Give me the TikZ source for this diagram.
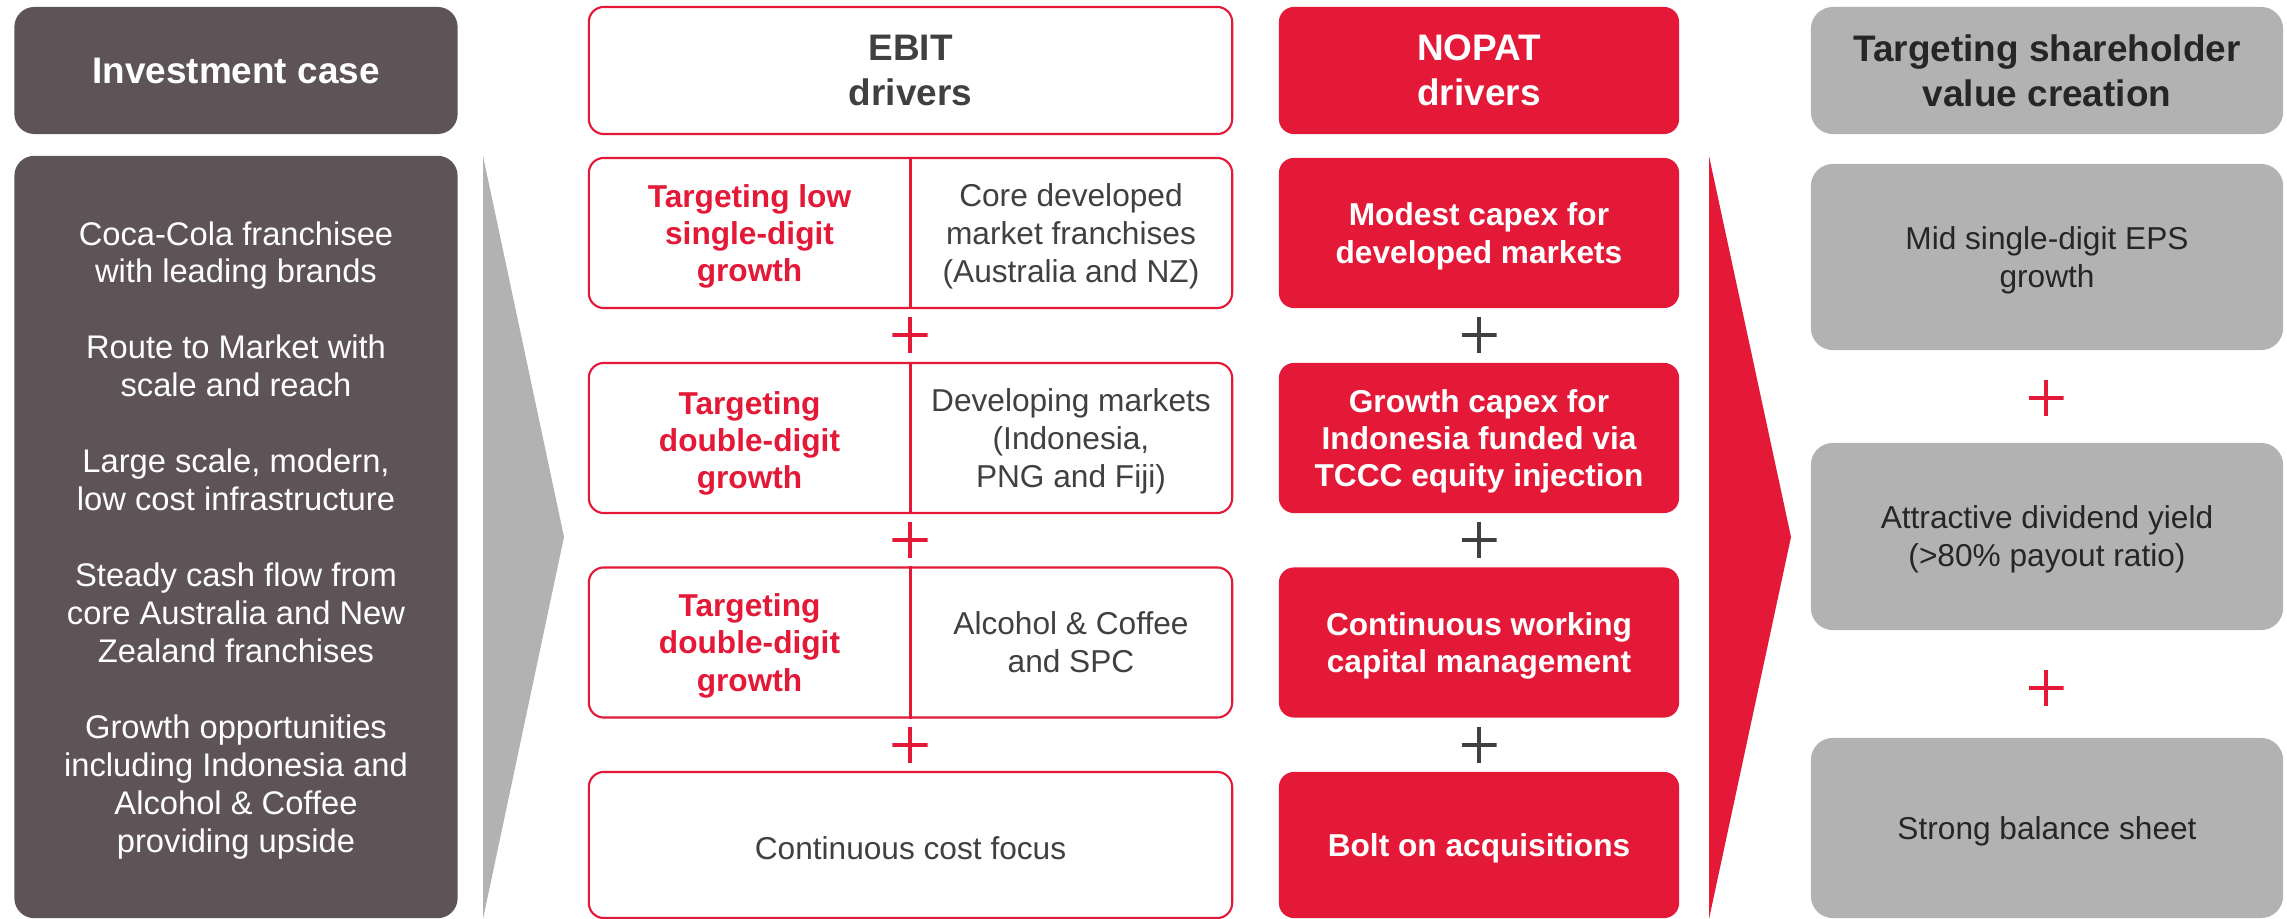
\documentclass[tikz,border=0pt]{standalone}
\usepackage{fontspec}
\setmainfont{Liberation Sans}
\definecolor{casebrown}{RGB}{94,84,87}
\definecolor{ccred}{RGB}{227,25,55}
\definecolor{valgrey}{RGB}{178,178,178}
\definecolor{ink}{RGB}{64,64,64}
\definecolor{inkdark}{RGB}{38,38,38}
\begin{document}
\begin{tikzpicture}[x=0.01cm,y=-0.01cm,
  every node/.style={font=\fontsize{9}{10.8}\selectfont, align=center, inner sep=0pt},
  headtext/.style={font=\fontsize{10.5}{12.8}\selectfont\bfseries},
  casebox/.style={fill=casebrown, rounded corners=0.2cm, text=white, minimum width=4.43cm, text depth=0pt},
  ebitbox/.style={draw=ccred, line width=0.6pt, fill=white, rounded corners=0.15cm, text=ink, minimum width=6.43cm},
  nopatbox/.style={fill=ccred, rounded corners=0.15cm, text=white, minimum width=4.0cm, text depth=0pt,
    font=\fontsize{9}{10.6}\selectfont\bfseries},
  valbox/.style={fill=valgrey, rounded corners=0.22cm, text=inkdark, minimum width=4.72cm, text depth=0pt},
  redlabel/.style={text=ccred, text depth=0pt, font=\fontsize{9}{10.6}\selectfont\bfseries},
  greylabel/.style={text=ink, text depth=0pt},
  divider/.style={draw=ccred, line width=0.6pt},
  plussign/.style={minimum size=0.35cm, path picture={
      \draw[#1, line width=1pt]
        (path picture bounding box.north) -- (path picture bounding box.south)
        (path picture bounding box.west) -- (path picture bounding box.east);}},
]
\useasboundingbox (0,0) rectangle (2287,919);

% investment case column
\node[casebox, headtext, minimum height=1.27cm] (invhead) at (236,70.5) {Investment case};
\node[casebox, minimum height=7.62cm, font=\fontsize{9.3}{10.8}\selectfont] (invbody) at (236,537)
  {Coca-Cola franchisee\\with leading brands\\[10.8pt]
   Route to Market with\\scale and reach\\[10.8pt]
   Large scale, modern,\\low cost infrastructure\\[10.8pt]
   Steady cash flow from\\core Australia and New\\Zealand franchises\\[10.8pt]
   Growth opportunities\\including Indonesia and\\Alcohol \& Coffee\\providing upside};

% grey chevron
\fill[valgrey] (483,156) -- (564,537) -- (483,919) -- cycle;

% EBIT drivers column
\node[ebitbox, headtext, minimum height=1.27cm, text depth=0pt] (ebithead) at (910.5,70.5) {EBIT\\drivers};
\node[ebitbox, minimum height=1.5cm] (row1) at (910.5,233) {};
\node[ebitbox, minimum height=1.5cm] (row2) at (910.5,438) {};
\node[ebitbox, minimum height=1.5cm] (row3) at (910.5,642.5) {};
\node[ebitbox, minimum height=1.46cm] (row4) at (910.5,845) {};
\draw[divider] (row1.north) -- (row1.south);
\draw[divider] (row2.north) -- (row2.south);
\draw[divider] (row3.north) -- (row3.south);

\node[redlabel] (row1l) at (749.5,233) {Targeting low\\single-digit\\growth};
\node[greylabel] (row1r) at (1071,233) {Core developed\\market franchises\\(Australia and NZ)};
\node[redlabel] (row2l) at (749.5,440) {Targeting\\double-digit\\growth};
\node[greylabel] (row2r) at (1071,438) {Developing markets\\(Indonesia,\\PNG and Fiji)};
\node[redlabel] (row3l) at (749.5,642.5) {Targeting\\double-digit\\growth};
\node[greylabel] (row3r) at (1071,642.5) {Alcohol \& Coffee\\and SPC};
\node[greylabel] (row4t) at (910.5,848) {Continuous cost focus};

\node[plussign=ccred] (ep1) at (910,335) {};
\node[plussign=ccred] (ep2) at (910,540) {};
\node[plussign=ccred] (ep3) at (910,745) {};

% NOPAT drivers column
\node[nopatbox, headtext, minimum height=1.27cm] (nophead) at (1479,70.5) {NOPAT\\drivers};
\node[nopatbox, minimum height=1.5cm] (nop1) at (1479,233) {Modest capex for\\developed markets};
\node[nopatbox, minimum height=1.5cm] (nop2) at (1479,438) {Growth capex for\\Indonesia funded via\\TCCC equity injection};
\node[nopatbox, minimum height=1.5cm] (nop3) at (1479,642.5) {Continuous working\\capital management};
\node[nopatbox, minimum height=1.46cm] (nop4) at (1479,845) {Bolt on acquisitions};

\node[plussign=ink] (np1) at (1479,335) {};
\node[plussign=ink] (np2) at (1479,540) {};
\node[plussign=ink] (np3) at (1479,745) {};

% red chevron
\fill[ccred] (1709,156) -- (1791,537) -- (1709,919) -- cycle;

% shareholder value column
\node[valbox, headtext, minimum height=1.27cm] (valhead) at (2047,70.5) {Targeting shareholder\\value creation};
\node[valbox, minimum height=1.86cm] (val1) at (2047,257) {Mid single-digit EPS\\growth};
\node[valbox, minimum height=1.87cm] (val2) at (2047,536.5) {Attractive dividend yield\\(>80\% payout ratio)};
\node[valbox, minimum height=1.8cm] (val3) at (2047,828) {Strong balance sheet};

\node[plussign=ccred] (vp1) at (2046,398) {};
\node[plussign=ccred] (vp2) at (2046,688) {};
\end{tikzpicture}
\end{document}
